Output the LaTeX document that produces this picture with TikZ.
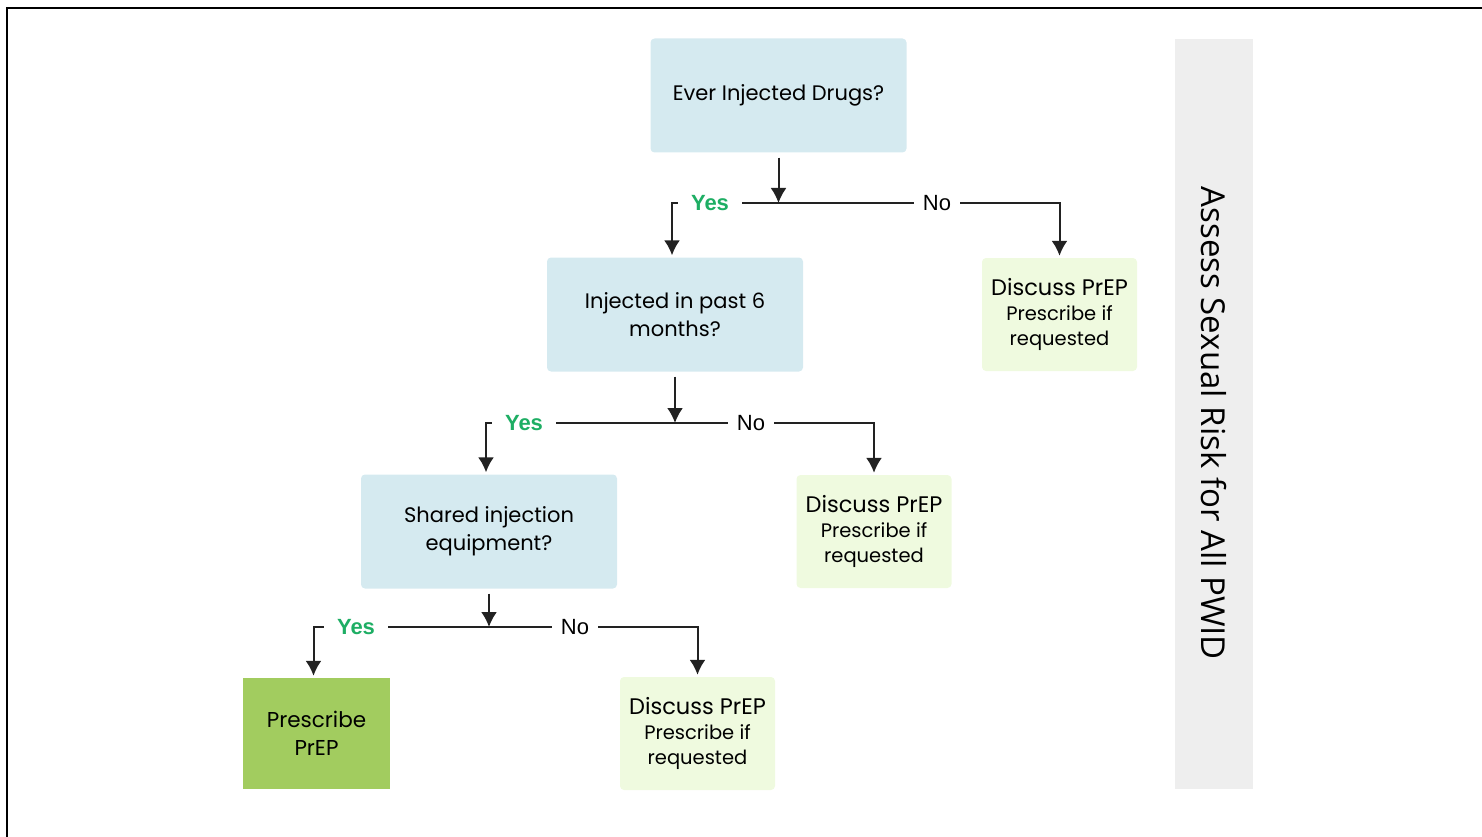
\documentclass[tikz,border=0pt]{standalone}
\usepackage{fontspec}
\setmainfont{Poppins}
\newfontfamily\answerfont{Liberation Sans}
\newfontfamily\sidefont{Open Sans}
\usetikzlibrary{arrows.meta}

\definecolor{questionblue}{HTML}{D5EAF0}
\definecolor{discussgreen}{HTML}{EFFADF}
\definecolor{prescribegreen}{HTML}{A2CC5F}
\definecolor{sidegray}{HTML}{EEEEEE}
\definecolor{yesgreen}{HTML}{1EAE64}
\definecolor{linegray}{HTML}{222222}

\begin{document}
\begin{tikzpicture}[x=1pt,y=-1pt,>={Latex[length=15pt,width=16pt]},
    flow/.style={draw=linegray,line width=2pt},
    question/.style={fill=questionblue,rounded corners=4pt,align=center,inner sep=0pt,
        minimum width=256pt,minimum height=114pt,font=\fontsize{21}{28}\selectfont},
    discuss/.style={fill=discussgreen,rounded corners=4pt,align=center,inner sep=0pt,
        minimum width=155pt,minimum height=113pt,font=\fontsize{19.5}{25}\selectfont},
    prescribe/.style={fill=prescribegreen,align=center,inner sep=0pt,
        minimum width=147pt,minimum height=111pt,font=\fontsize{21.5}{28}\selectfont},
    yes/.style={text=yesgreen,inner xsep=13pt,inner ysep=0pt,font=\answerfont\bfseries\fontsize{22}{22}\selectfont},
    no/.style={inner xsep=9pt,inner ysep=0pt,font=\answerfont\fontsize{22}{22}\selectfont}]
    \useasboundingbox (0,0) rectangle (1482,837);

    % the frame
    \draw[line width=2pt] (7,837) -- (7,8) -- (1482,8);

    % the side bar
    \node (sidebar) [fill=sidegray,minimum width=78pt,minimum height=750pt,inner sep=0pt] at (1214,414) {};
    \node (sidetext) [rotate=-90,font=\sidefont\fontsize{33}{33}\selectfont] at (1214,423.5) {Assess Sexual Risk for All PWID};

    % the questions
    \node (q1) [question] at (778.5,95.5) {Ever Injected Drugs?};
    \node (q2) [question] at (675,314.5) {Injected in past 6\\months?};
    \node (q3) [question] at (489,531.5) {Shared injection\\equipment?};

    % the outcomes
    \node (d1) [discuss] at (1059.5,314.5) {{\fontsize{22.5}{25}\selectfont Discuss PrEP}\\Prescribe if\\requested};
    \node (d2) [discuss] at (874,531.5) {{\fontsize{22.5}{25}\selectfont Discuss PrEP}\\Prescribe if\\requested};
    \node (d3) [discuss] at (697.5,733.5) {{\fontsize{22.5}{25}\selectfont Discuss PrEP}\\Prescribe if\\requested};
    \node (rx) [prescribe] at (316.5,733.5) {Prescribe\\PrEP};

    % the answers
    \node (yes1) [yes] at (710,203) {Yes};
    \node (no1) [no] at (937,203) {No};
    \node (yes2) [yes] at (524,423) {Yes};
    \node (no2) [no] at (751,423) {No};
    \node (yes3) [yes] at (356,627) {Yes};
    \node (no3) [no] at (575,627) {No};

    % the branches
    \foreach \q/\y/\n/\a/\b in {q1/yes1/no1/q2/d1, q2/yes2/no2/q3/d2, q3/yes3/no3/rx/d3} {
        \draw[flow,->,shorten <=5pt] (\q.south) -- (\q.south |- \n.west);
        \draw[flow] (\y.east) -- (\n.west);
        \draw[flow,->,shorten >=2pt] (\y.west) -| ([xshift=-3pt]\a.north);
        \draw[flow,->,shorten >=2pt] (\n.east) -| (\b.north);
    }
\end{tikzpicture}
\end{document}
